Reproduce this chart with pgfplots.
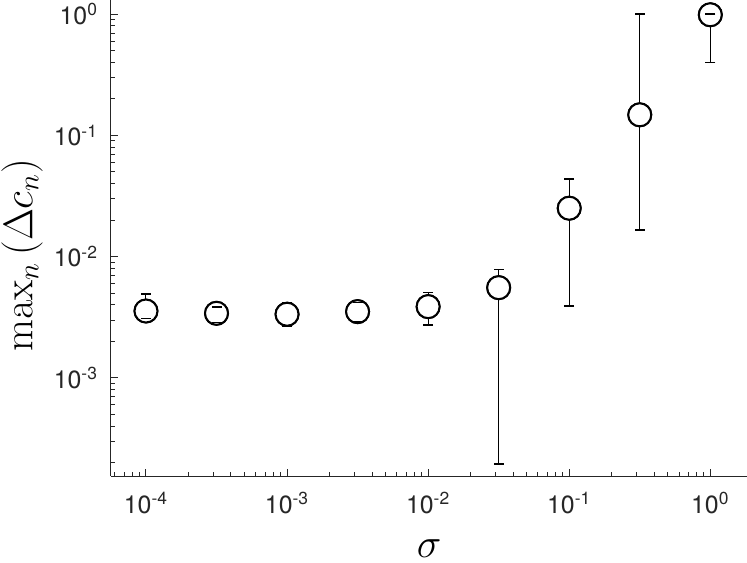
\documentclass[border=0pt]{standalone}
\usepackage[no-math]{fontspec}
\newfontfamily\heros{TeX Gyre Heros}
\usepackage{pgfplots}
\pgfplotsset{compat=1.18}
\usepackage{pgfplotstable}
\definecolor{axgray}{RGB}{38,38,38}

\pgfplotstableread{
x        y        lo       hi
1e-4     3.56e-3  3.08e-3  4.90e-3
3.1623e-4 3.41e-3 2.85e-3  3.85e-3
1e-3     3.35e-3  2.65e-3  4.13e-3
3.1623e-3 3.52e-3 2.93e-3  4.20e-3
1e-2     3.87e-3  2.73e-3  5.08e-3
3.1623e-2 5.55e-3 1.95e-4  7.87e-3
1e-1     0.0251   3.9e-3   0.0436
0.31623  0.148    0.0166   1.0
1.0      0.99     0.40     1.0
}\datatable

\begin{document}
\begin{tikzpicture}
\begin{axis}[
  at={(0,0)}, anchor=south west,
  scale only axis, width=318bp, height=238bp,
  xmode=log, ymode=log,
  xmin=5.65e-5, xmax=1.82, ymin=1.55e-4, ymax=1.31,
  axis x line*=bottom, axis y line*=left,
  axis line style={axgray, line width=0.5bp},
  tick align=inside,
  major tick length=3.5bp, minor tick length=2bp,
  every tick/.style={axgray, line width=0.5bp},
  xtick={1e-4,1e-3,1e-2,1e-1,1},
  xticklabels={10\textsuperscript{-4},10\textsuperscript{-3},10\textsuperscript{-2},10\textsuperscript{-1},10\textsuperscript{0}},
  minor xtick={6e-5,7e-5,8e-5,9e-5,2e-4,3e-4,4e-4,5e-4,6e-4,7e-4,8e-4,9e-4,2e-3,3e-3,4e-3,5e-3,6e-3,7e-3,8e-3,9e-3,2e-2,3e-2,4e-2,5e-2,6e-2,7e-2,8e-2,9e-2,0.2,0.3,0.4,0.5,0.6,0.7,0.8,0.9},
  ytick={1e-3,1e-2,1e-1,1},
  yticklabels={10\textsuperscript{-3},10\textsuperscript{-2},10\textsuperscript{-1},10\textsuperscript{0}},
  minor ytick={2e-4,3e-4,4e-4,5e-4,6e-4,7e-4,8e-4,9e-4,2e-3,3e-3,4e-3,5e-3,6e-3,7e-3,8e-3,9e-3,2e-2,3e-2,4e-2,5e-2,6e-2,7e-2,8e-2,9e-2,0.2,0.3,0.4,0.5,0.6,0.7,0.8,0.9},
  tick label style={font=\heros\fontsize{12.5}{15}\selectfont, text=axgray},
  xticklabel style={yshift=-4.5bp},
  yticklabel style={xshift=-3bp},
  xlabel={$\sigma$},
  ylabel={$\max_n\left(\Delta c_n\right)$},
  label style={font=\fontsize{21}{25}\selectfont},
  xlabel style={at={(axis description cs:0.5,-0.153)}, anchor=center},
  ylabel style={at={(axis description cs:-0.14,0.464)}, anchor=center},
  clip=false,
]
\addplot[black, only marks, mark=*, mark size=5.75bp,
  mark options={line width=1bp, fill=white, draw=black},
  error bars/.cd, y dir=both, y explicit,
  error bar style={line width=0.5bp, black}, error mark=none]
  table[x=x, y=y, y error plus expr=\thisrow{hi}-\thisrow{y}, y error minus expr=\thisrow{y}-\thisrow{lo}] {\datatable};
\addplot[black, only marks, mark=*, mark size=5.75bp,
  mark options={line width=1bp, fill=white, draw=black}]
  table[x=x, y=y] {\datatable};
\addplot[black, only marks, mark=-, mark size=2.5bp, mark options={line width=0.75bp}]
  table[x=x, y=lo] {\datatable};
\addplot[black, only marks, mark=-, mark size=2.5bp, mark options={line width=0.75bp}]
  table[x=x, y=hi] {\datatable};
\end{axis}
\pgfresetboundingbox
\useasboundingbox (-55.5bp,-43.5bp) rectangle (318bp,238bp);
\end{tikzpicture}
\end{document}
